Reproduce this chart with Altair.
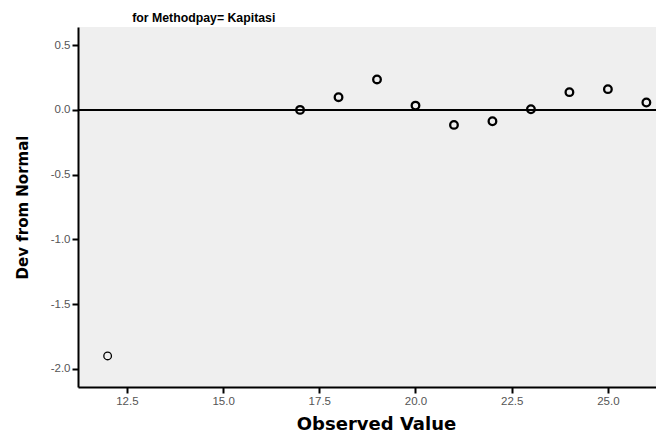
import altair as alt
import pandas as pd

observed = [12, 17, 18, 19, 20, 21, 22, 23, 24, 25, 26]
dev = [-1.90, 0.00, 0.098, 0.235, 0.033, -0.116, -0.088, 0.005, 0.137, 0.160, 0.057]
x_ticks = [12.5, 15.0, 17.5, 20.0, 22.5, 25.0]
y_ticks = [-2.0, -1.5, -1.0, -0.5, 0.0, 0.5]

df = pd.DataFrame({"Observed Value": observed, "Dev from Normal": dev})
zero = pd.DataFrame({"y": [0.0]})

FONT = "Liberation Sans"
TFONT = "DejaVu Sans"
LABEL_EXPR = "replace(format(datum.value, '.1f'), '\u2212', '-')"

xscale = alt.Scale(domain=[11.23, 26.25], nice=False, zero=False)
yscale = alt.Scale(domain=[-2.14, 0.64], nice=False, zero=False)

points = alt.Chart(df).mark_point(
    shape="circle", filled=False, color="black", size=58, opacity=1
).encode(
    x=alt.X("Observed Value:Q", scale=xscale,
            axis=alt.Axis(values=x_ticks, labelExpr=LABEL_EXPR, title="Observed Value",
                          grid=False, domainColor="black", domainWidth=2,
                          tickColor="black", tickWidth=2, tickSize=6,
                          labelColor="#555555", labelFontSize=11.5, labelFont=FONT,
                          labelPadding=2, titleX=298,
                          titleFont=TFONT, titleFontSize=18, titleFontWeight="bold",
                          titleColor="black", titlePadding=9)),
    y=alt.Y("Dev from Normal:Q", scale=yscale,
            axis=alt.Axis(values=y_ticks, labelExpr=LABEL_EXPR, title="Dev from Normal",
                          grid=False, domainColor="black", domainWidth=2,
                          tickColor="black", tickWidth=2, tickSize=6,
                          labelColor="#555555", labelFontSize=11.5, labelFont=FONT,
                          labelPadding=2,
                          titleFont=TFONT, titleFontSize=15, titleFontWeight="bold",
                          titleColor="black", titlePadding=20)),
    strokeWidth=alt.condition("datum['Observed Value'] < 15", alt.value(1.3), alt.value(2.3)),
)

rule = alt.Chart(zero).mark_rule(color="black", strokeWidth=2).encode(
    y=alt.Y("y:Q", scale=yscale)
)

chart = alt.layer(rule, points).properties(
    width=578,
    height=360,
    background="white",
    title=alt.TitleParams("for Methodpay= Kapitasi", font=FONT, fontSize=12.3,
                          fontWeight="bold", color="black", anchor="start",
                          dx=117, offset=3),
    autosize=alt.AutoSizeParams(type="none"),
    padding={"left": 70, "top": 19, "right": 0, "bottom": 47},
).configure_view(
    fill="#efefef", stroke=None
)

chart.save("out.html", embed_options={"renderer": "svg", "actions": False})
